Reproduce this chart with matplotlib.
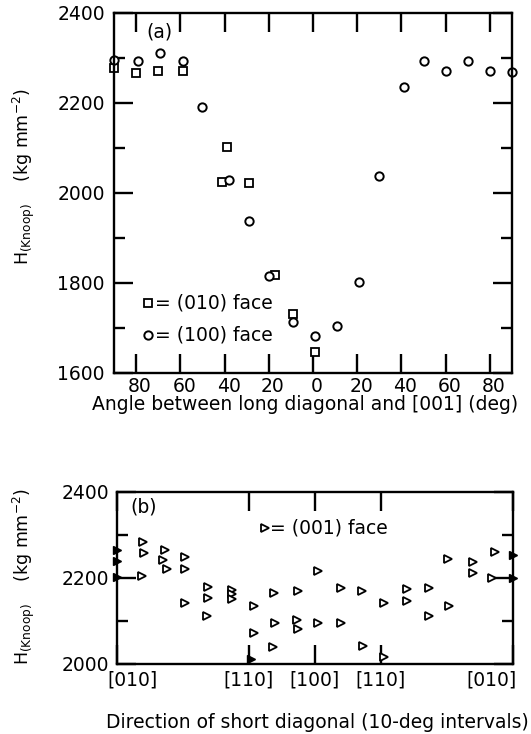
import matplotlib
matplotlib.use("Agg")
import matplotlib.pyplot as plt
import matplotlib.transforms as mtransforms
from matplotlib.ticker import MultipleLocator

plt.rcParams['font.family'] = ['DejaVu Sans']
plt.rcParams['mathtext.fontset'] = 'dejavusans'

# ---------------- Panel (a) data ----------------
# x: angle; left half (negative) = 90..0 on (010)/(100) side, right half positive
sq_x = [-90, -80, -70, -59, -39, -41, -29, -17, -9, 1]
sq_y = [2278, 2267, 2271, 2271, 2102, 2024, 2022, 1818, 1731, 1647]
ci_x = [-90, -79, -69, -59, -50, -38, -29, -20, -9, 1, 11, 21, 30, 41, 50, 60, 70, 80, 90]
ci_y = [2296, 2293, 2311, 2293, 2191, 2029, 1938, 1816, 1713, 1682, 1704, 1802,
        2038, 2236, 2293, 2271, 2293, 2271, 2269]
xticks_a = [-80, -60, -40, -20, 0, 20, 40, 60, 80]
xticklabels_a = ['80', '60', '40', '20', '0', '20', '40', '60', '80']
yticks_a = [1600, 1800, 2000, 2200, 2400]

# ---------------- Panel (b) data ----------------
tri_x = [12, 12.4, 11.6, 21.8, 21, 23, 31.3, 31.3, 31.3, 41.4, 41.4, 41, 52.4, 52.4, 52.4,
         62.2, 62.2, 71.3, 72, 71, 82.6, 81.9, 82.6, 91.7, 91.3, 102, 102, 111.4, 111.8,
         121.5, 131.8, 131.8, 142, 142, 151, 150.6, 162, 162, 171.8, 170.3, 121.5]
tri_y = [2284, 2257, 2204, 2266, 2243, 2221, 2249, 2221, 2143, 2180, 2154, 2112, 2173, 2162, 2150,
         2136, 2073, 2166, 2095, 2040, 2170, 2102, 2081, 2095, 2216, 2177, 2095, 2170, 2042,
         2143, 2175, 2147, 2176, 2112, 2135, 2244, 2237, 2212, 2260, 2200, 2016]
fill_x = [0, 0, 0, 180, 180, 61]
fill_y = [2266, 2240, 2203, 2254, 2201, 2012]
xticks_b = [0, 60, 90, 120, 180]
xticklabels_b = ['[010]', '[110]', '[100]', '[110]', '[010]']
yticks_b = [2000, 2200, 2400]

fig = plt.figure(figsize=(5.31, 7.34), dpi=100)

W, H = 531.0, 734.0
def axrect(l, t, r, b):
    return [l / W, 1 - b / H, (r - l) / W, (b - t) / H]

def shift(dx_px, dy_px=0):
    return mtransforms.ScaledTranslation(dx_px / 100.0, dy_px / 100.0, fig.dpi_scale_trans)

FS = 13.5
ax1 = fig.add_axes(axrect(114, 13, 512, 373))
ax2 = fig.add_axes(axrect(116.5, 492, 513, 664))

for ax in (ax1, ax2):
    for s in ax.spines.values():
        s.set_linewidth(1.7)
    ax.tick_params(which='both', direction='in', top=True, right=True,
                   width=1.7, labelsize=FS)
    ax.tick_params(which='major', length=14)
    ax.tick_params(which='minor', length=8)

# Panel (a)
ax1.plot(sq_x, sq_y, linestyle='none', marker='s', ms=5.2, mfc='white', mec='black',
         mew=1.3, clip_on=False)
ax1.plot(ci_x, ci_y, linestyle='none', marker='o', ms=6, mfc='white', mec='black',
         mew=1.4, clip_on=False)
ax1.set_xlim(-90, 90)
ax1.set_ylim(1600, 2400)
ax1.set_xticks(xticks_a)
ax1.set_xticklabels(xticklabels_a)
ax1.set_yticks(yticks_a)
ax1.yaxis.set_minor_locator(MultipleLocator(100))
ax1.tick_params(axis='x', pad=3)
ax1.tick_params(axis='y', pad=6.5)
for lb in ax1.get_xticklabels():
    lb.set_transform(lb.get_transform() + shift(4))
ax1.text(0.113, 0.947, '(a)', transform=ax1.transAxes, fontsize=FS, ha='center', va='center')
# key
ax1.plot([0.0854], [0.1944], transform=ax1.transAxes, marker='s', ms=5.2, mfc='white',
         mec='black', mew=1.3, linestyle='none')
ax1.plot([0.0854], [0.1056], transform=ax1.transAxes, marker='o', ms=6, mfc='white',
         mec='black', mew=1.4, linestyle='none')
ax1.text(0.103, 0.1944, '= (010) face', transform=ax1.transAxes, fontsize=FS,
         ha='left', va='center')
ax1.text(0.103, 0.1056, '= (100) face', transform=ax1.transAxes, fontsize=FS,
         ha='left', va='center')

# Panel (b)
ax2.plot(tri_x, tri_y, linestyle='none', marker='>', ms=5.5, mfc='white', mec='black',
         mew=1.3, clip_on=False)
ax2.plot(fill_x, fill_y, linestyle='none', marker='>', ms=5.5, mfc='black', mec='black',
         mew=1.0, clip_on=False)
ax2.set_xlim(0, 180)
ax2.set_ylim(2000, 2400)
ax2.set_xticks(xticks_b)
ax2.set_xticklabels(xticklabels_b)
ax2.set_yticks(yticks_b)
ax2.yaxis.set_minor_locator(MultipleLocator(100))
ax2.tick_params(axis='x', pad=5)
ax2.tick_params(axis='y', pad=5)
lbls = ax2.get_xticklabels()
lbls[0].set_ha('left')
lbls[0].set_transform(lbls[0].get_transform() + shift(-9))
lbls[-1].set_ha('right')
lbls[-1].set_transform(lbls[-1].get_transform() + shift(4))
ax2.text(0.069, 0.913, '(b)', transform=ax2.transAxes, fontsize=FS, ha='center', va='center')
ax2.plot([0.3745], [0.791], transform=ax2.transAxes, marker='>', ms=5.5, mfc='white',
         mec='black', mew=1.3, linestyle='none')
ax2.text(0.388, 0.791, '= (001) face', transform=ax2.transAxes, fontsize=FS,
         ha='left', va='center')

ylab = r'H$_{\mathrm{(Knoop)}}$    (kg mm$^{-2}$)'
fig.text(24 / W, 1 - 177 / H, ylab, rotation=90, ha='center', va='center', fontsize=12.5)
fig.text(24 / W, 1 - 577 / H, ylab, rotation=90, ha='center', va='center', fontsize=12.5)
fig.text(305 / W, 1 - 404 / H, 'Angle between long diagonal and [001] (deg)',
         ha='center', va='center', fontsize=FS)
fig.text(317 / W, 1 - 722 / H, 'Direction of short diagonal (10-deg intervals)',
         ha='center', va='center', fontsize=FS)

fig.savefig('out.png', dpi=100)
